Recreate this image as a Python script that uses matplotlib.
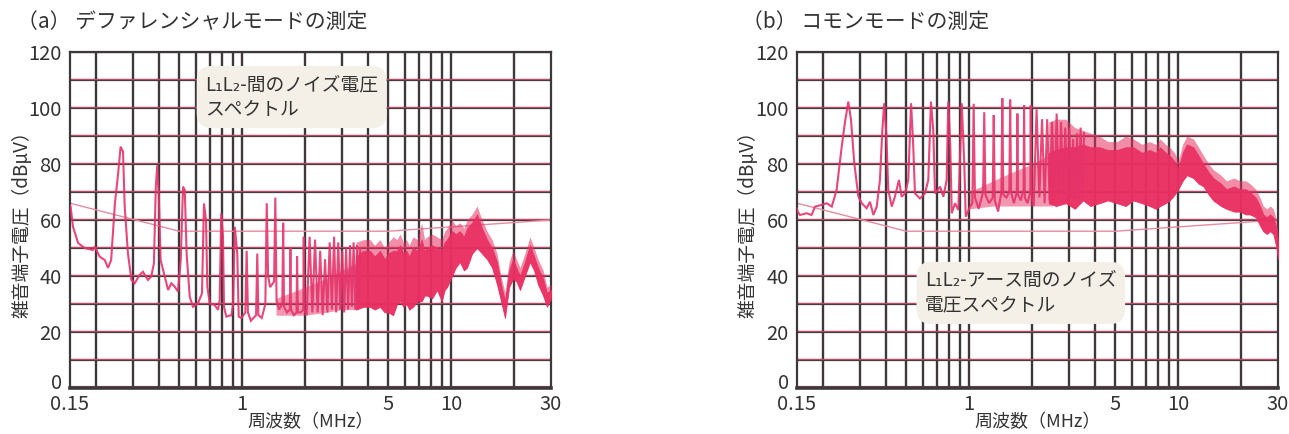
import matplotlib
matplotlib.use("Agg")
import matplotlib.pyplot as plt
from matplotlib.ticker import NullLocator, FixedLocator, FixedFormatter
from matplotlib.transforms import ScaledTranslation

plt.rcParams['font.family'] = ['Noto Sans CJK JP', 'DejaVu Sans']

# ---------------- data ----------------
x_ticks = [0.15, 1, 5, 10, 30]
x_tick_labels = ['0.15', '1', '5', '10', '30']
y_ticks = [0, 20, 40, 60, 80, 100, 120]
grid_freqs = [0.2, 0.3, 0.4, 0.5, 0.6, 0.7, 0.8, 0.9,
              1, 2, 3, 4, 5, 6, 7, 8, 9, 10, 20]
grid_levels = [10, 20, 30, 40, 50, 60, 70, 80, 90, 100, 110, 120]

# limit line (dBuV)
limit_freq = [0.15, 0.5, 5, 30]
limit_level = [66, 56, 56, 60]

# (a) differential mode: discrete trace
a_freq = [0.150, 0.151, 0.155, 0.164, 0.176, 0.193, 0.197, 0.208, 0.220, 0.228,
          0.236, 0.246, 0.254, 0.262, 0.269, 0.274, 0.284, 0.295, 0.306, 0.323,
          0.335, 0.354, 0.367, 0.378, 0.386, 0.392, 0.399, 0.407, 0.426, 0.442,
          0.458, 0.475, 0.493, 0.508, 0.521, 0.531, 0.542, 0.561, 0.581, 0.614,
          0.642, 0.656, 0.671, 0.681, 0.699, 0.739, 0.766, 0.780, 0.794, 0.809,
          0.818, 0.839, 0.887, 0.904, 0.921, 0.947, 0.962, 0.990,
          1.035, 1.050, 1.065, 1.100, 1.165, 1.180, 1.195, 1.240, 1.290, 1.310,
          1.330, 1.360, 1.420, 1.440, 1.460, 1.500, 1.555, 1.570, 1.585, 1.635,
          1.690, 1.700, 1.710, 1.765, 1.820, 1.830, 1.845, 1.900, 1.960, 1.970,
          1.980, 2.035, 2.100, 2.165, 2.230, 2.295, 2.360, 2.425, 2.490, 2.555,
          2.620, 2.685, 2.750, 2.815, 2.880, 2.945, 3.010, 3.075, 3.140, 3.210,
          3.280, 3.345, 3.410, 3.475, 3.540, 3.605, 3.670]
a_level = [65.0, 64.8, 57.6, 51.8, 50.0, 49.3, 50.5, 46.9, 45.7, 42.9,
           45.7, 66.0, 75.5, 86.2, 84.4, 64.8, 48.1, 38.6, 37.4, 40.4,
           41.5, 38.6, 39.8, 44.5, 71.9, 79.5, 68.3, 45.7, 39.8, 35.0,
           37.4, 36.2, 34.4, 45.7, 71.9, 70.7, 48.0, 32.6, 29.0, 30.2,
           33.8, 65.9, 60.0, 36.2, 30.2, 29.6, 27.9, 31.4, 62.4, 54.0,
           29.0, 25.5, 26.0, 29.6, 57.6, 48.0, 25.5, 25.0,
           27, 49, 27, 24, 26, 48, 26, 25, 30, 66,
           40, 36, 38, 68, 31, 28, 30, 59, 29, 27,
           28, 50, 28, 26, 27, 47, 27, 27, 28, 54,
           28, 26, 54, 27, 53, 27, 49, 26, 46, 27,
           52, 28, 54, 27, 52, 28, 49, 27, 50, 28,
           51, 29, 52, 28, 51, 29, 50]

# (a) hatched floor between harmonics
a_floor_f = [1.45, 2.0, 2.5, 3.0, 3.6]
a_floor_lo = [26, 26, 27, 28, 28]
a_floor_hi = [32, 36, 39, 42, 45]

# (a) dense band: minimum, solid core top, spike tops
a_band_f = [3.5, 3.8, 4.09, 4.3, 4.56, 4.8, 5.0, 5.27, 5.5, 5.69,
            5.9, 6.1, 6.3, 6.56, 6.9, 7.22, 7.45, 7.66, 8.1, 8.55,
            9.0, 9.3, 9.54, 10.08, 10.5, 11.0, 11.5, 11.9, 12.57, 13.28,
            14.04, 14.83, 15.67, 16.55, 17.3, 18.07, 18.9, 19.74, 20.5, 21.33,
            22.5, 23.8, 24.9, 26.0, 27.5, 28.7, 30.0]
a_band_lo = [28, 29, 29, 28, 29, 27, 27, 26, 30, 31,
             29, 30, 28, 29, 31, 31, 33, 33, 32, 35,
             31, 35, 36, 40, 43, 45, 42, 43, 48, 50,
             48, 46, 43, 37, 31, 25, 36, 39, 38, 35,
             40, 45, 42, 37, 33, 29, 32]
a_band_core = [47, 49, 49, 47, 49, 46, 48, 49, 49, 51,
               48, 49, 47, 50, 49, 53, 49, 50, 51, 50,
               49, 52, 53, 56, 55, 56, 54, 57, 59, 62,
               57, 53, 50, 45, 37, 31, 42, 46, 43, 40,
               45, 51, 47, 43, 39, 34, 35]
a_band_hi = [52, 53, 53, 51, 53, 50, 52, 54, 53, 55,
             52, 53, 51, 54, 53, 59, 53, 54, 55, 54,
             53, 56, 57, 60, 58, 59, 57, 60, 62, 65,
             60, 56, 53, 48, 40, 34, 45, 49, 46, 43,
             48, 54, 50, 46, 42, 36, 37]

# (b) common mode: discrete trace
b_freq = [0.150, 0.151, 0.155, 0.167, 0.176, 0.183, 0.197, 0.208, 0.220, 0.232,
          0.2455, 0.254, 0.264, 0.272, 0.282, 0.295, 0.306, 0.323, 0.335, 0.348,
          0.361, 0.374, 0.384, 0.392, 0.401, 0.410, 0.426, 0.441, 0.461, 0.475,
          0.493, 0.511, 0.527, 0.540, 0.550, 0.581, 0.614, 0.637, 0.656, 0.673,
          0.686, 0.725, 0.752, 0.780, 0.794, 0.812, 0.825, 0.855, 0.887, 0.921,
          0.947, 0.962, 1.009,
          1.035, 1.050, 1.065, 1.110, 1.165, 1.180, 1.195, 1.245, 1.295, 1.310,
          1.325, 1.375, 1.425, 1.440, 1.455, 1.505, 1.555, 1.570, 1.585, 1.635,
          1.690, 1.700, 1.710, 1.765, 1.820, 1.830, 1.845, 1.900, 1.960, 1.970,
          1.980, 2.035, 2.100, 2.165, 2.230, 2.295, 2.360, 2.425, 2.490, 2.555,
          2.620, 2.685, 2.750, 2.815, 2.880, 2.945, 3.010, 3.075, 3.140, 3.210,
          3.280, 3.345, 3.410, 3.475, 3.540]
b_level = [64.0, 63.0, 61.8, 62.4, 61.8, 64.8, 65.4, 66.0, 64.8, 70.7,
           86.2, 94.5, 102.3, 95.7, 80.2, 68.3, 66.0, 64.2, 66.5, 61.8,
           64.8, 74.3, 92.1, 101.7, 91.0, 70.7, 64.8, 68.3, 74.3, 68.3,
           69.5, 74.3, 101.7, 86.0, 69.5, 67.7, 69.5, 74.3, 102.3, 92.0,
           69.5, 71.9, 68.3, 74.3, 102.3, 86.0, 62.4, 66.0, 63.6, 101.7,
           80.2, 61.2, 64.8,
           66, 101.5, 68, 64, 70, 98.5, 69, 66, 68, 97.5,
           67, 63, 70, 103.5, 69, 68, 70, 103, 70, 66,
           70, 98, 69, 67, 71, 101, 68, 66, 70, 101,
           70, 65, 99.5, 68, 96, 66, 96, 67, 95, 68,
           98, 67, 95, 68, 93, 67, 93, 68, 89, 67,
           91, 68, 93, 67, 91]

# (b) hatched floor between harmonics
b_floor_f = [1.0, 1.3, 1.6, 2.0, 2.5]
b_floor_lo = [64, 65, 65, 65, 65]
b_floor_hi = [70, 74, 77, 80, 84]

# (b) dense band: minimum, solid core top, spike tops
b_band_f = [2.4, 2.6, 2.9, 3.2, 3.5, 3.8, 4.2, 4.6, 5.1, 5.6,
            6.1, 6.7, 7.3, 7.8, 8.2, 8.7, 9.1, 9.6, 10.0, 10.5,
            11.0, 11.8, 12.5, 13.2, 14.0, 14.7, 16.0, 17.0, 18.5, 19.7,
            21.0, 22.0, 23.5, 24.6, 25.5, 26.5, 27.5, 28.5, 29.5, 30.0]
b_band_lo = [66, 65, 66, 64, 67, 65, 66, 67, 66, 65,
             67, 66, 65, 64, 65, 66, 67, 69, 71, 74,
             76, 75, 73, 72, 69, 67, 65, 64, 63, 63,
             62, 62, 61, 58, 56, 55, 56, 55, 50, 46]
b_band_core = [84, 85, 86, 86, 87, 86, 86, 85, 85, 86,
               86, 84, 85, 84, 86, 84, 83, 81, 78, 84,
               87, 86, 83, 80, 77, 75, 73, 71, 72, 71,
               71, 70, 68, 65, 62, 61, 62, 61, 57, 52]
b_band_hi = [95, 96, 96, 93, 92, 91, 90, 88, 88, 90,
             89, 87, 88, 87, 89, 87, 86, 84, 81, 87,
             90, 89, 86, 83, 80, 78, 76, 74, 75, 74,
             74, 73, 71, 68, 65, 64, 65, 64, 60, 55]

# ---------------- styles ----------------
TEXT = '#333333'
TRACE = '#e5336a'
BAND = '#e92f62'
GRID_DARK = '#3d383b'
GRID_RED = '#d64c6c'
LIMIT = '#e98aa2'
BOX = '#f4f0e7'

fig = plt.figure(figsize=(12.89, 4.34), dpi=100)
W, H = 1289, 434
ax_a = fig.add_axes([70 / W, 46 / H, 481 / W, 336 / H])
ax_b = fig.add_axes([797 / W, 46 / H, 481 / W, 336 / H])


def style_axes(ax, ylabel_x):
    ax.set_xscale('log')
    ax.set_xlim(0.15, 30)
    ax.set_ylim(0, 120)
    ax.xaxis.set_major_locator(FixedLocator(x_ticks))
    ax.xaxis.set_major_formatter(FixedFormatter(x_tick_labels))
    ax.xaxis.set_minor_locator(NullLocator())
    ax.set_yticks(y_ticks)
    ax.tick_params(length=0, labelsize=14.5, colors=TEXT)
    ax.tick_params(axis='x', pad=4)
    ax.tick_params(axis='y', pad=6)
    for f in grid_freqs:
        ax.axvline(f, color=GRID_DARK, lw=1.7, zorder=1)
    for lv in grid_levels:
        ax.axhline(lv, color=GRID_DARK, lw=1.6, zorder=1)
        ax.axhline(lv + 0.45, color=GRID_RED, lw=0.9, alpha=0.85, zorder=1.1)
    ax.axhline(0.6, color=GRID_RED, lw=0.9, alpha=0.85, zorder=1.1)
    for side in ['left', 'right', 'top']:
        ax.spines[side].set_color(GRID_DARK)
        ax.spines[side].set_linewidth(1.6)
    ax.spines['bottom'].set_color(GRID_DARK)
    ax.spines['bottom'].set_linewidth(2.6)
    ax.set_xlabel('周波数（MHz）', fontsize=13, color=TEXT, labelpad=-1)
    ax.set_ylabel('雑音端子電圧（dBμV）', fontsize=13.5, color=TEXT)
    ax.yaxis.set_label_coords(ylabel_x, 0.5)
    ax.plot(limit_freq, limit_level, color=LIMIT, lw=1.0, zorder=2)
    # lift the "0" label slightly off the bottom edge
    zero = ax.get_yticklabels()[0]
    zero.set_transform(zero.get_transform() +
                       ScaledTranslation(0, 5 / 72, fig.dpi_scale_trans))


def draw_spectrum(ax, f, lv, ff, flo, fhi, bf, blo, bcore, bhi):
    ax.fill_between(ff, flo, fhi, color=BAND, alpha=0.5, lw=0, zorder=3)
    ax.fill_between(bf, bcore, bhi, color=BAND, alpha=0.55, lw=0, zorder=3)
    ax.fill_between(bf, blo, bcore, color=BAND, alpha=0.97, lw=0.6,
                    edgecolor=BAND, zorder=3)
    ax.plot(f, lv, color=TRACE, lw=1.5, alpha=0.9, zorder=4,
            solid_joinstyle='miter')


style_axes(ax_a, -0.077)
style_axes(ax_b, -0.079)
draw_spectrum(ax_a, a_freq, a_level, a_floor_f, a_floor_lo, a_floor_hi,
              a_band_f, a_band_lo, a_band_core, a_band_hi)
draw_spectrum(ax_b, b_freq, b_level, b_floor_f, b_floor_lo, b_floor_hi,
              b_band_f, b_band_lo, b_band_core, b_band_hi)

box = dict(boxstyle='round,pad=0.45,rounding_size=0.8', fc=BOX, ec='none')
ax_a.text(0.281, 0.866, 'L₁L₂-間のノイズ電圧\nスペクトル', transform=ax_a.transAxes,
          ha='left', va='center', fontsize=13.5, color=TEXT, linespacing=1.2,
          bbox=box, zorder=10)
ax_b.text(0.266, 0.283, 'L₁L₂-アース間のノイズ\n電圧スペクトル', transform=ax_b.transAxes,
          ha='left', va='center', fontsize=13.5, color=TEXT, linespacing=1.2,
          bbox=box, zorder=10)

fig.text(17 / W, 1 - 22 / H, '（a） デファレンシャルモードの測定', fontsize=15,
         color=TEXT, ha='left', va='center')
fig.text(742 / W, 1 - 22 / H, '（b） コモンモードの測定', fontsize=15,
         color=TEXT, ha='left', va='center')

fig.savefig('out.png', dpi=100, facecolor='white')
